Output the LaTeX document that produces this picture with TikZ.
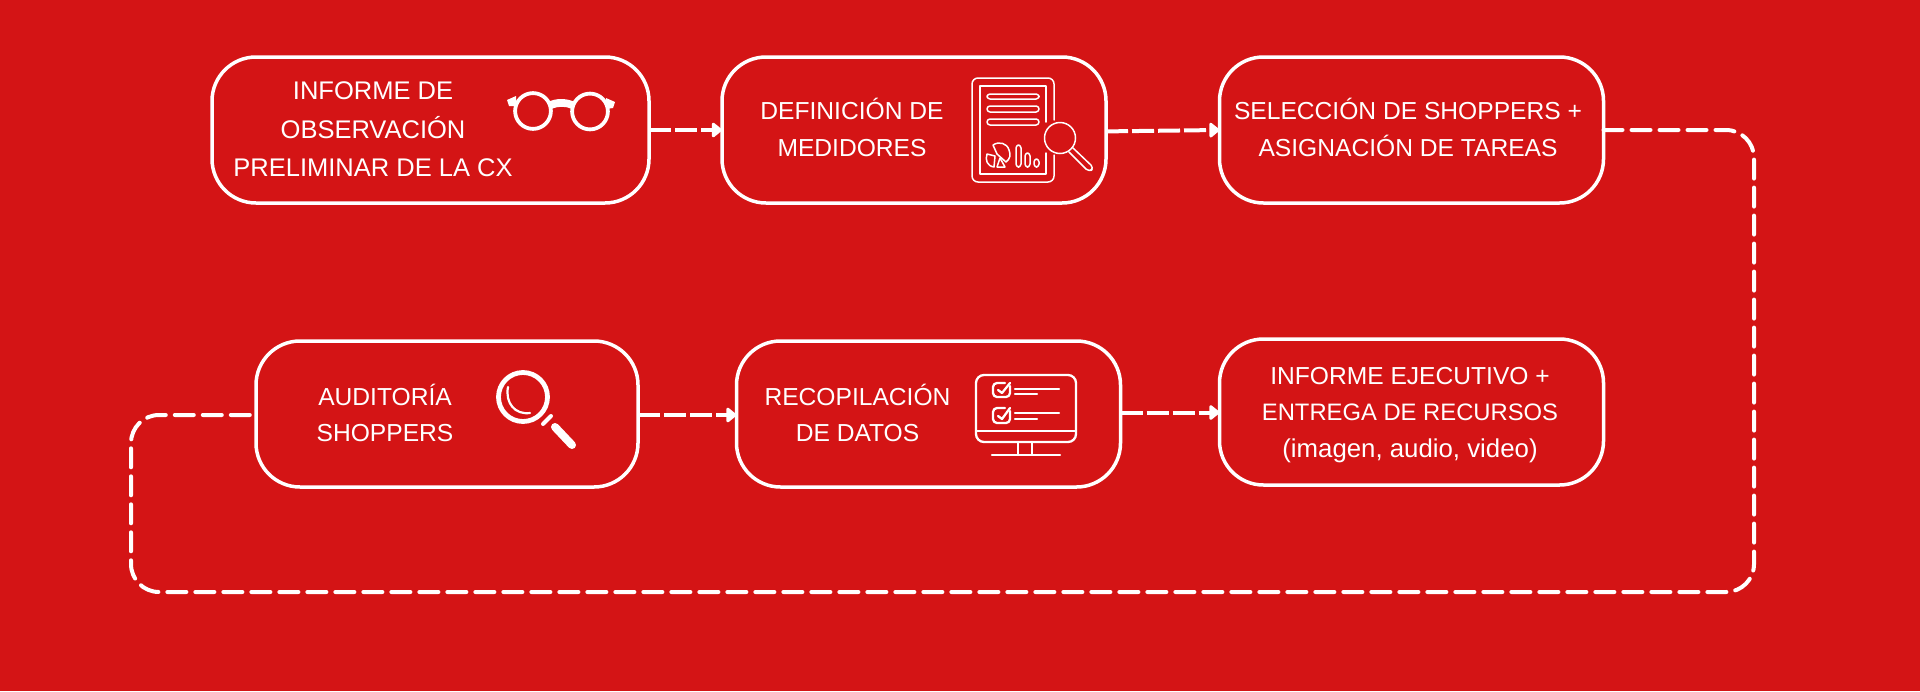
\documentclass[tikz,border=0pt]{standalone}
\usepackage{fontspec}
\setmainfont{Liberation Sans}
\usetikzlibrary{arrows.meta}
\definecolor{fondo}{RGB}{212,20,21}
\tikzset{
  etapa/.style={draw=white,line width=1.75pt,rounded corners=22pt,minimum height=73pt,outer sep=0pt,inner sep=0pt},
  rotulo/.style={text=white,align=center,font=\fontsize{12.3}{18.4}\selectfont,inner sep=0pt},
  flecha/.style={draw=white,line width=2pt,dash pattern=on 11pt off 2pt,-{Triangle[length=5.5pt,width=8.5pt,round]}},
  enlace/.style={draw=white,line width=2pt,line cap=round,dash pattern=on 9.5pt off 4.5pt},
  icono/.style={draw=white,line width=1.15pt,line cap=round,line join=round},
  iconofino/.style={draw=white,line width=.75pt,line cap=round,line join=round}
}
\begin{document}
\begin{tikzpicture}[x=.5pt,y=-.5pt]
\fill[fondo] (0,0) rectangle (1920,691);
\useasboundingbox (0,0) rectangle (1920,691);

\node[etapa,minimum width=218.5pt] (informe) at (430.5,130) {};
\node[etapa,minimum width=192pt] (medidores) at (914,130) {};
\node[etapa,minimum width=192pt] (seleccion) at (1411.5,130) {};
\node[etapa,minimum width=191pt] (auditoria) at (447,414) {};
\node[etapa,minimum width=192pt] (recopilacion) at (928.5,414) {};
\node[etapa,minimum width=192pt] (ejecutivo) at (1411.5,412) {};

\node[rotulo,font=\fontsize{12.75}{19.3}\selectfont] (t1) at (373,129.5) {INFORME DE\\OBSERVACIÓN\\PRELIMINAR DE LA CX};
\node[rotulo] (t2) at (852,127.5) {DEFINICIÓN DE\\MEDIDORES};
\node[rotulo] (t3) at (1408,127.5) {SELECCIÓN DE SHOPPERS +\\ASIGNACIÓN DE TAREAS};
\node[rotulo] (t4) at (385,413) {AUDITORÍA\\SHOPPERS};
\node[rotulo] (t5) at (857.5,413) {RECOPILACIÓN\\DE DATOS};
\node[rotulo] (t6) at (1410,415) {INFORME EJECUTIVO +\\{\fontsize{11.9}{18.6}\selectfont ENTREGA DE RECURSOS}\\{\fontsize{12.9}{18.6}\selectfont (imagen, audio, video)}};

\draw[flecha] (informe.east) -- (medidores.west);
\draw[flecha] ([yshift=-.7pt]medidores.east) -- (seleccion.west);
\draw[flecha] ([yshift=-.5pt]auditoria.east) -- ([yshift=-.5pt]recopilacion.west);
\draw[flecha] ([yshift=.75pt]recopilacion.east) -- ([yshift=-.25pt]ejecutivo.west);

\coordinate (c1) at (1754,130);
\coordinate (c2) at (1754,592);
\coordinate (c3) at (131,592);
\coordinate (c4) at (131,415);
\draw[enlace,rounded corners=14pt] (seleccion.east) -- (c1) -- (c2) -- (c3) -- (c4) -- ([yshift=-.5pt]auditoria.west);

\draw[draw=white,line width=1.9pt] (533,111) circle (17.9);
\draw[draw=white,line width=1.9pt] (590,111.5) circle (17.9);
\fill[white] (548,102) .. controls (556,98) and (566,98) .. (575,102) -- (572,109) .. controls (566,106) and (558,106) .. (551,109) -- cycle;
\fill[white] (507,100) -- (516,96) -- (516,106) -- (509,106) -- cycle;
\fill[white] (615,102) -- (606,98) -- (606,109) -- (613,108) -- cycle;

\draw[iconofino,rounded corners=3pt] (1054,120) -- (1054,78) -- (972,78) -- (972,182) -- (1054,182) -- (1054,155);
\draw[iconofino] (1046,122) -- (1046,86) -- (980,86) -- (980,174) -- (1046,174) -- (1046,153);
\draw[iconofino,rounded corners=1.5pt] (987,94) rectangle (1039,99);
\draw[iconofino,rounded corners=1.5pt] (987,106) rectangle (1039,112);
\draw[iconofino,rounded corners=1.5pt] (987,119) rectangle (1039,125);
\draw[iconofino] (993,145) .. controls (999,141) and (1007,143) .. (1009,150) .. controls (1011,155) and (1010,159) .. (1006,162) -- (997,154) -- cycle;
\draw[iconofino] (987,154) -- (995,156) -- (994,167) .. controls (987,166) and (985,160) .. cycle;
\draw[iconofino] (1000,158) -- (1005,167) -- (997,167) -- cycle;
\draw[iconofino,rounded corners=1.5pt] (1016,145) rectangle (1021,167);
\draw[iconofino,rounded corners=1.5pt] (1025,153) rectangle (1030,167);
\draw[iconofino,rounded corners=1.5pt] (1034,159) rectangle (1039,167);
\draw[iconofino] (1060,138) circle (15.5);
\draw[iconofino,rounded corners=2pt] (1073,148) -- (1094,168) -- (1089,172) -- (1069,152);

\draw[draw=white,line width=2.4pt] (523,397) circle (24.5);
\draw[white,line width=1.1pt,line cap=round] (508,387) .. controls (505,403) and (515,415) .. (530,413);
\draw[white,line width=2pt,line cap=round] (543,424) -- (551,416);
\draw[white,line width=4pt,line cap=round] (555,427) -- (572,445);

\draw[icono,rounded corners=4pt] (976,375) rectangle (1076,442);
\draw[icono] (976,431) -- (1076,431);
\draw[icono] (1018,442) -- (1018,454);
\draw[icono] (1032,442) -- (1032,454);
\draw[icono] (992,455) -- (1060,455);
\draw[icono,rounded corners=2pt] (1010,386) -- (1010,397) -- (993,397) -- (993,383) -- (1005,383);
\draw[icono] (998,390) -- (1002,393) -- (1010,383);
\draw[icono] (1015,389) -- (1059,389);
\draw[icono] (1015,394) -- (1037,394);
\draw[icono,rounded corners=2pt] (1010,411) -- (1010,423) -- (993,423) -- (993,408) -- (1005,408);
\draw[icono] (998,416) -- (1002,419) -- (1010,408);
\draw[icono] (1015,413) -- (1059,413);
\draw[icono] (1015,419) -- (1037,419);
\end{tikzpicture}
\end{document}
